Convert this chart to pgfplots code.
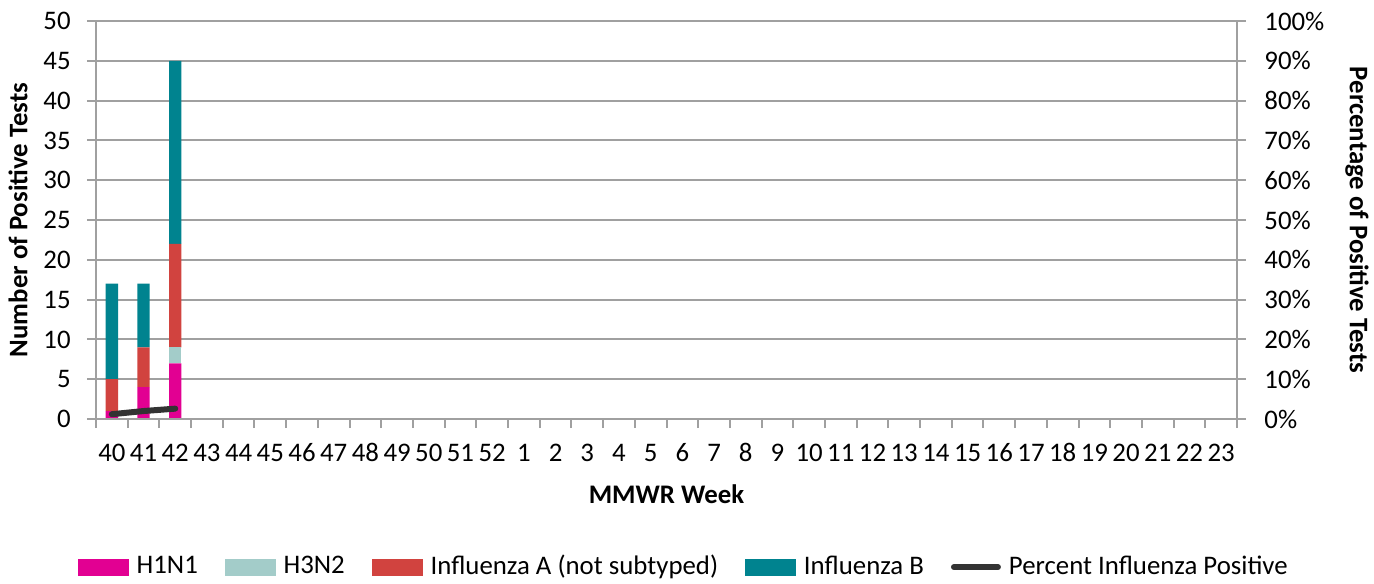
\documentclass[border=0pt]{standalone}
\usepackage{pgfplots}
\pgfplotsset{compat=1.18}
\usepackage{fontspec}
\setmainfont{Carlito}
\definecolor{hone}{RGB}{226,0,146}
\definecolor{hthree}{RGB}{163,204,201}
\definecolor{infa}{RGB}{209,67,63}
\definecolor{infb}{RGB}{0,131,143}
\definecolor{pline}{RGB}{51,51,51}
\definecolor{gridc}{RGB}{160,160,160}
\begin{document}
\fontsize{13.4}{16}\selectfont
\begin{tikzpicture}
\useasboundingbox (-48pt,-82pt) rectangle (639pt,209.5pt);
\begin{axis}[
 at={(0pt,0pt)}, anchor=south west,
 scale only axis, width=570.5pt, height=199pt,
 ybar stacked, bar width=6.2pt,
 xmin=-0.5, xmax=35.5, ymin=0, ymax=50,
 xtick={0,...,35},
 xticklabels={40,41,42,43,44,45,46,47,48,49,50,51,52,1,2,3,4,5,6,7,8,9,10,11,12,13,14,15,16,17,18,19,20,21,22,23},
 xticklabel style={anchor=base, inner sep=0pt, yshift=-16.5pt},
 ytick={0,5,...,50},
 axis x line*=bottom, axis y line*=left,
 x axis line style={-}, y axis line style={-},
 axis line style={gridc, line width=1pt},
 tick align=outside,
 major tick length=4.5pt,
 xtick style={draw=none},
 ytick style={draw=gridc, line width=1pt},
 ymajorgrids, major grid style={gridc, line width=1pt},
 /pgf/number format/assume math mode=true,
 yticklabel style={anchor=east, inner sep=0pt, xshift=-8pt},
 xlabel={\textbf{MMWR Week}},
 ylabel={\textbf{Number of Positive Tests}},
 every axis x label/.style={at={(axis description cs:0.5,-0.188)}, anchor=center},
 every axis y label/.style={at={(axis description cs:-0.0684,0.5)}, rotate=90, anchor=center},
]
\addplot[fill=hone, draw=none] coordinates {(0,1) (1,4) (2,7)};
\addplot[fill=hthree, draw=none] coordinates {(0,0) (1,0) (2,2)};
\addplot[fill=infa, draw=none] coordinates {(0,4) (1,5) (2,13)};
\addplot[fill=infb, draw=none] coordinates {(0,12) (1,8) (2,23)};
\end{axis}
\begin{axis}[
 at={(0pt,0pt)}, anchor=south west,
 scale only axis, width=570.5pt, height=199pt,
 xmin=-0.5, xmax=35.5, ymin=0, ymax=100,
 axis x line*=bottom, axis y line*=right,
 x axis line style={-}, y axis line style={-},
 axis line style={gridc, line width=1pt},
 tick align=outside, major tick length=4.5pt,
 tick style={draw=gridc, line width=1pt},
 xtick={-0.5,0.5,...,35.5}, xticklabels={},
 ytick={0,10,...,100},
 yticklabel={\pgfmathprintnumber{\tick}\%},
 /pgf/number format/assume math mode=true,
 yticklabel style={anchor=west, inner sep=0pt, xshift=9pt},
 ylabel={\textbf{Percentage of Positive Tests}},
 every axis y label/.style={at={(axis description cs:1.1052,0.5)}, rotate=-90, anchor=center},
 legend style={at={(axis description cs:0.516,-0.372)}, anchor=center, draw=none, fill=none,
   legend columns=-1, font=\fontsize{13.4}{16}\selectfont,
   /tikz/every even column/.append style={column sep=11.5pt},
   nodes={inner sep=2pt}},
 legend cell align=left,
]
\addlegendimage{legend image code/.code={\fill[hone] (0pt,-4pt) rectangle (25pt,4pt);}}
\addlegendentry{\hspace{2pt}H1N1}
\addlegendimage{legend image code/.code={\fill[hthree] (0pt,-4pt) rectangle (25pt,4pt);}}
\addlegendentry{\hspace{2pt}H3N2}
\addlegendimage{legend image code/.code={\fill[infa] (0pt,-4pt) rectangle (25pt,4pt);}}
\addlegendentry{\hspace{2pt}Influenza A (not subtyped)}
\addlegendimage{legend image code/.code={\fill[infb] (0pt,-4pt) rectangle (25pt,4pt);}}
\addlegendentry{\hspace{2pt}Influenza B}
\addplot[pline, line width=3pt, line cap=round, mark=none,
  legend image code/.code={\draw[pline, line width=3pt, line cap=round] (1.5pt,0pt) -- (23.5pt,0pt);}]
  coordinates {(0,1.2) (1,2.0) (2,2.6)};
\addlegendentry{\hspace{2pt}Percent Influenza Positive}
\end{axis}
\end{tikzpicture}
\end{document}
